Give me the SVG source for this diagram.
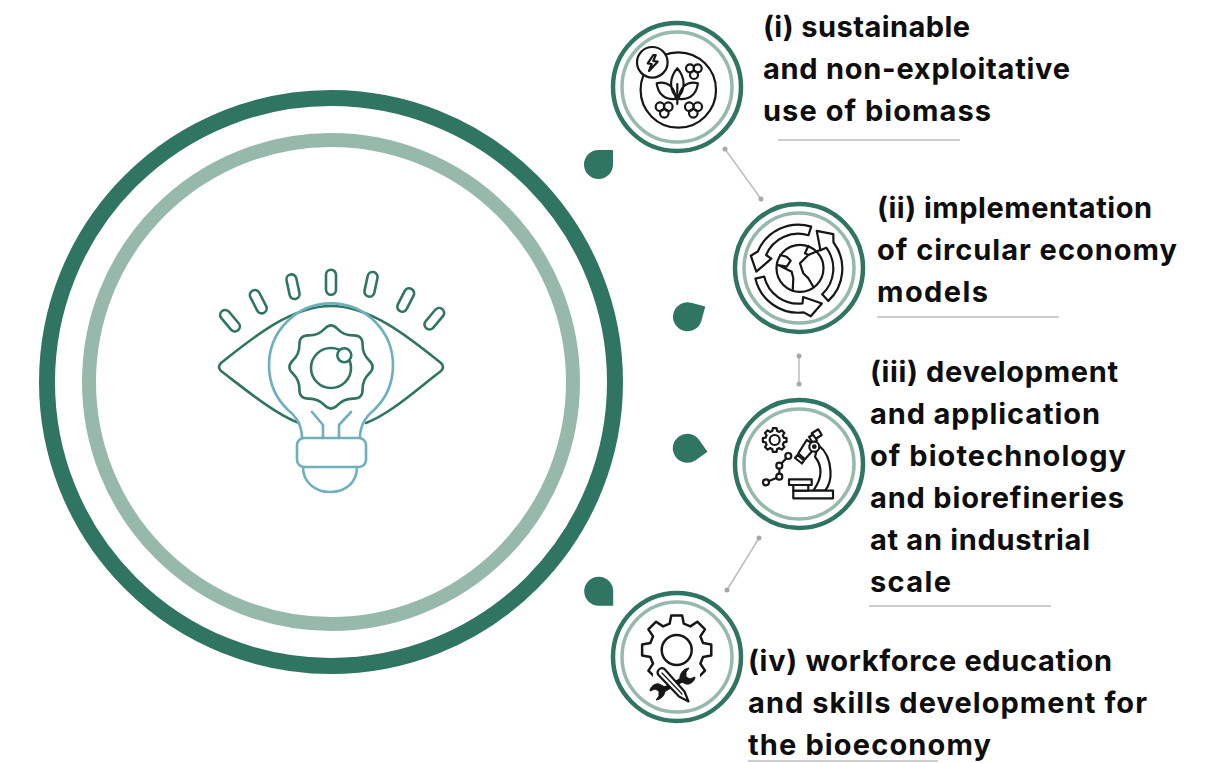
<svg xmlns="http://www.w3.org/2000/svg" width="1209" height="763" viewBox="0 0 1209 763">
<style>
.lbl{font-family:"Inter","Liberation Sans",sans-serif;font-weight:650;font-size:29px;fill:#0e0e0e}
.r1{fill:none;stroke:#2f7561;stroke-width:4.5}
.r2{fill:none;stroke:#97b9ac;stroke-width:3.5}
.ic{fill:none;stroke:#161616;stroke-width:2.2;stroke-linejoin:round;stroke-linecap:round}
.icw{fill:#fff;stroke:#161616;stroke-width:2.2;stroke-linejoin:round;stroke-linecap:round}
.g{fill:none;stroke:#2f7561;stroke-width:2.6;stroke-linecap:round;stroke-linejoin:round}
.b{fill:none;stroke:#6fb0bd;stroke-width:2.6;stroke-linecap:round;stroke-linejoin:round}
.drop{fill:#2f7561}
.ul{stroke:#bdbdbd;stroke-width:1.5}
.cn{stroke:#bdbdbd;stroke-width:1.5}
.dot{fill:#a8a8a8}
</style>
<defs>
<path id="gear" vector-effect="non-scaling-stroke" d="M-20.2 -75.3L-15.6 -98.8L15.6 -98.8L20.2 -75.3L39 -67.5L58.8 -80.9L80.9 -58.8L67.5 -39L75.3 -20.2L98.8 -15.6L98.8 15.6L75.3 20.2L67.5 39L80.9 58.8L58.8 80.9L39 67.5L20.2 75.3L15.6 98.8L-15.6 98.8L-20.2 75.3L-39 67.5L-58.8 80.9L-80.9 58.8L-67.5 39L-75.3 20.2L-98.8 15.6L-98.8 -15.6L-75.3 -20.2L-67.5 -39L-80.9 -58.8L-58.8 -80.9L-39 -67.5Z"/>
<path id="arrow" d="M12.9 -42.1A44 44 0 0 0 -40.5 -17.2L-47.5 -13L-42 3L-27 -10L-32.2 -13.7A35 35 0 0 1 10.2 -33.5Z"/>
<path id="dropshape" d="M14.5 -14.5V0A14.5 14.5 0 1 1 0 -14.5Z"/>
<rect id="pill" x="-5" y="-12.5" width="10" height="25" rx="5"/>
</defs>

<g id="connectors">
<line class="cn" x1="725" y1="149" x2="761" y2="199"/><circle class="dot" cx="725" cy="149" r="2.5"/><circle class="dot" cx="761" cy="199" r="2.5"/>
<line class="cn" x1="799" y1="356" x2="799" y2="384"/><circle class="dot" cx="799" cy="356" r="2.5"/><circle class="dot" cx="799" cy="384" r="2.5"/>
<line class="cn" x1="759" y1="538" x2="727" y2="590"/><circle class="dot" cx="759" cy="538" r="2.5"/><circle class="dot" cx="727" cy="590" r="2.5"/>
</g>

<g id="central">
<circle cx="331" cy="382" r="284" fill="none" stroke="#2f7561" stroke-width="16"/>
<circle cx="331" cy="382" r="242" fill="none" stroke="#97b9ac" stroke-width="14"/>
<g class="g">
<use href="#pill" transform="translate(230 320.7) rotate(-40)"/>
<use href="#pill" transform="translate(258.3 301.7) rotate(-27)"/>
<use href="#pill" transform="translate(293 286.7) rotate(-12)"/>
<use href="#pill" transform="translate(331 282.3)"/>
<use href="#pill" transform="translate(371 284.3) rotate(12)"/>
<use href="#pill" transform="translate(405.7 300) rotate(27)"/>
<use href="#pill" transform="translate(434.3 318.7) rotate(40)"/>
<path d="M299 423C275 414 246 390 221 371Q217 367 221 363C250 340 290 306 331 306C372 306 412 340 441 363Q445 367 441 371C416 390 390 414 366 423"/>
<path d="M324.5 328.8Q331 322 337.5 328.8T353.4 335.4T362.6 344.6T369.2 360.5T369.2 373.5T362.6 389.4T353.4 398.6T337.5 405.2T324.5 405.2T308.6 398.6T299.4 389.4T292.8 373.5T292.8 360.5T299.4 344.6T308.6 335.4T324.5 328.8Z"/>
<circle cx="331" cy="368" r="20"/>
<circle cx="344.3" cy="355.3" r="7" fill="#fff"/>
</g>
<g class="b">
<path d="M302 438C302 428 298 418 288 410A62 62 0 1 1 374 410C364 418 360 428 360 438"/>
<path d="M312 412L323 425V438M351 412L339 425V438"/>
<rect x="297" y="438" width="69" height="29" rx="7"/>
<path d="M303 467C303 483 316 492 330 492C345 492 357 483 357 467"/>
</g>
</g>

<g id="node-1">
<circle class="r1" cx="677" cy="87" r="64"/><circle class="r2" cx="677" cy="87" r="55"/>
<circle class="ic" cx="678.3" cy="90" r="37.7"/>
<circle class="icw" cx="652.3" cy="62.3" r="15.3"/>
<path class="ic" d="M653.3 55L647.7 63.3L651.7 64L649 71L657.7 61.7L653.3 61L655.7 55Z"/>
<path class="ic" d="M677.3 68.3C669 78 669 90 677.3 98C685.7 90 685.7 78 677.3 68.3ZM677.3 84V104M656.7 83.3C668 80 675 88 675.7 99C665 100 658 94 656.7 83.3ZM697.9 83.3C686.6 80 679.6 88 678.9 99C689.6 100 696.6 94 697.9 83.3Z"/>
<g class="ic"><circle cx="690" cy="68.3" r="4"/><circle cx="697.7" cy="68.3" r="4"/><circle cx="694" cy="75" r="4"/><circle cx="660" cy="106.7" r="4.3"/><circle cx="668.3" cy="106.7" r="4.3"/><circle cx="664.3" cy="113.3" r="4.3"/><circle cx="689.3" cy="106.7" r="4.3"/><circle cx="697.7" cy="106.7" r="4.3"/><circle cx="693.3" cy="113.3" r="4.3"/></g>
<use class="drop" href="#dropshape" transform="translate(598.5 164.5)"/>
<text class="lbl" x="763" y="37" textLength="207">(i) sustainable</text>
<text class="lbl" x="763" y="79" textLength="307">and non-exploitative</text>
<text class="lbl" x="763" y="121" textLength="228">use of biomass</text>
<line class="ul" x1="778" y1="140" x2="960" y2="140"/>
</g>

<g id="node-2">
<circle class="r1" cx="799" cy="268" r="64"/><circle class="r2" cx="799" cy="268" r="55"/>
<circle class="ic" cx="800" cy="268.3" r="23.5"/>
<g class="ic">
<use href="#arrow" transform="translate(798.3 268.7)"/>
<use href="#arrow" transform="translate(798.3 268.7) rotate(120)"/>
<use href="#arrow" transform="translate(798.3 268.7) rotate(240)"/>
<path d="M780 255L786.7 256.7L790.7 260.7L786.7 266.7L778.3 265M778.3 265L791.7 271.7L793.3 278.3L792.7 291M808.3 246L805 253.3L808.3 255L800 263.3L803.3 273.3L808.3 278.3L813.3 286.7M808.3 255L820 250"/>
</g>
<use class="drop" href="#dropshape" transform="translate(687.5 316.7) rotate(15)"/>
<text class="lbl" x="877" y="218" textLength="275">(ii) implementation</text>
<text class="lbl" x="877" y="260" textLength="300">of circular economy</text>
<text class="lbl" x="877" y="302" textLength="111">models</text>
<line class="ul" x1="877" y1="317" x2="1059" y2="317"/>
</g>

<g id="node-3">
<circle class="r1" cx="799" cy="464" r="64"/><circle class="r2" cx="799" cy="464" r="55"/>
<use class="ic" href="#gear" transform="translate(774.7 440) scale(.12)"/>
<circle class="ic" cx="774.7" cy="440" r="5"/>
<path class="ic" d="M788.3 456L779.3 465.7V476.7L766 482.3"/>
<g class="icw"><circle cx="788.3" cy="456" r="3"/><circle cx="779.3" cy="465.7" r="3"/><circle cx="779.3" cy="476.7" r="3"/><circle cx="766" cy="482.3" r="3"/></g>
<g class="icw">
<path d="M818.3 445C826 451 830 461 830.5 471C831 479 829 486 825 490.7H813.3C818 484 820.5 478 820.5 472C820.5 466 818.5 461 815 456.7Z"/>
<rect x="793.3" y="490.7" width="39.7" height="7.6"/>
<rect x="793.3" y="485" width="15" height="5.7"/>
<rect x="789" y="479.3" width="22.7" height="5.7"/>
<path d="M797.5 455L804 460.5L802 463.5L795 458Z"/>
<path d="M806.7 440L816.7 446L805 459.3L798.3 453.3Z"/>
<path d="M811.7 433.3L818.3 429.3L821.7 435L815 439.3Z"/>
<path d="M809 437L813 434.5L817 440.5L813 443Z"/>
<circle cx="814.3" cy="446.7" r="5"/>
<circle cx="814.3" cy="446.7" r="1.3"/>
</g>
<use class="drop" href="#dropshape" transform="translate(687.3 448.3) rotate(55)"/>
<text class="lbl" x="870" y="382" textLength="248">(iii) development</text>
<text class="lbl" x="870" y="424" textLength="230">and application</text>
<text class="lbl" x="870" y="466" textLength="256">of biotechnology</text>
<text class="lbl" x="870" y="508" textLength="254">and biorefineries</text>
<text class="lbl" x="870" y="550" textLength="220">at an industrial</text>
<text class="lbl" x="870" y="592" textLength="81">scale</text>
<line class="ul" x1="869" y1="606" x2="1051" y2="606"/>
</g>

<g id="node-4">
<circle class="r1" cx="677" cy="657" r="64"/><circle class="r2" cx="677" cy="657" r="55"/>
<use class="ic" style="stroke-width:2.5" href="#gear" transform="translate(676.7 650) scale(.35)"/>
<rect x="653" y="670" width="47" height="20" fill="#fff"/>
<circle class="ic" style="stroke-width:2.5" cx="676.7" cy="650" r="15"/>
<path d="M682 680L663 690" stroke="#161616" stroke-width="5" fill="none"/>
<path d="M689 668C682 669 679 675 680 681L686 684C690 685 695 681 695 677L690 679L686 677L686 672Z" fill="#161616" stroke="#161616" stroke-linejoin="round"/>
<path d="M656 700C663 699 666 693 665 687L659 684C655 683 650 687 650 691L655 689L659 691L659 696Z" fill="#161616" stroke="#161616" stroke-linejoin="round"/>
<path class="icw" d="M658.5 675A4.3 4.3 0 0 1 664.5 669L684.5 691.5L688.5 701.5L679 696.5Z"/>
<path class="ic" style="stroke-width:1.2" d="M662 673L682 694"/>
<use class="drop" href="#dropshape" transform="translate(598.7 591.3) rotate(90)"/>
<text class="lbl" x="748" y="671" textLength="364">(iv) workforce education</text>
<text class="lbl" x="748" y="713" textLength="399">and skills development for</text>
<text class="lbl" x="748" y="755" textLength="243">the bioeconomy</text>
<line class="ul" x1="748" y1="761" x2="938" y2="761"/>
</g>
</svg>
